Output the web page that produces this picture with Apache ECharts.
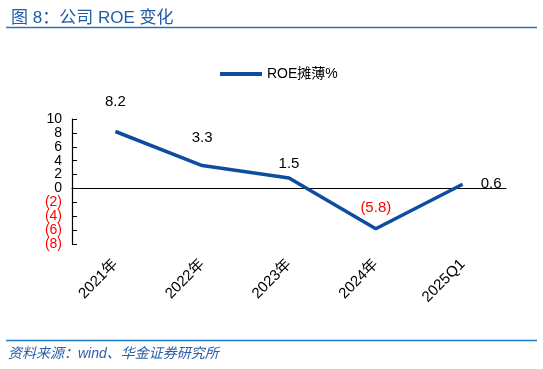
<!DOCTYPE html>
<html><head><meta charset="utf-8">
<script src="https://cdn.jsdelivr.net/npm/echarts@6/dist/echarts.min.js"></script>
<style>html,body{margin:0;padding:0;background:#fff}#c{width:543px;height:369px}</style>
</head><body><div id="c"></div>
<script>
var categories = ['2021年', '2022年', '2023年', '2024年', '2025Q1'];
var roeValues = [8.2, 3.3, 1.5, -5.8, 0.6];
var yTicks = [-8, -6, -4, -2, 0, 2, 4, 6, 8, 10];

var FONT = '"Liberation Sans", Arial, "Noto Sans CJK SC", sans-serif';
var labelCfg = [
  {position: 'top', distance: 22},
  {position: 'top', distance: 20},
  {position: 'top', distance: 7},
  {position: 'top', distance: 13},
  {position: 'right', distance: 18}
];
function fmt(v){ return v < 0 ? '(' + Math.abs(v) + ')' : String(v); }

var chart = echarts.init(document.getElementById('c'));
chart.setOption({
  animation: false,
  backgroundColor: '#fff',
  title: {
    text: '图 8：公司 ROE 变化', left: 6, top: 5,
    textStyle: {color: '#1f5ca8', fontSize: 17, fontWeight: 'normal', fontFamily: FONT}
  },
  graphic: [
    {type: 'line', shape: {x1: 6, y1: 27.5, x2: 537, y2: 27.5}, style: {stroke: '#2a72b8', lineWidth: 1.5}},
    {type: 'line', shape: {x1: 6, y1: 340.5, x2: 537, y2: 340.5}, style: {stroke: '#1f7ac8', lineWidth: 1.5}},
    {type: 'text', left: 8, top: 347, style: {text: '资料来源：wind、华金证券研究所', fill: '#2a5ea8', font: 'italic 14px ' + FONT}}
  ],
  legend: {
    left: 215, top: 62, icon: 'rect', itemWidth: 42, itemHeight: 4, itemGap: 5,
    textStyle: {fontSize: 14, color: '#000', fontFamily: FONT},
    data: ['ROE摊薄%']
  },
  grid: {left: 72, right: 37, top: 119, bottom: 125, containLabel: false},
  xAxis: [{
    type: 'category', data: categories, boundaryGap: true,
    axisLine: {onZero: true, lineStyle: {color: '#000', width: 1.2}},
    axisTick: {inside: true, length: 5, lineStyle: {color: '#000'}},
    axisLabel: {show: false}
  }, {
    type: 'category', data: categories, position: 'bottom', boundaryGap: true,
    axisLine: {show: false, onZero: false}, axisTick: {show: false},
    axisLabel: {rotate: 45, margin: 18, fontSize: 15, color: '#000', fontFamily: FONT, interval: 0}
  }],
  yAxis: {
    type: 'value', min: -8, max: 10, interval: 2,
    axisLine: {show: true, lineStyle: {color: '#000', width: 1.2}},
    axisTick: {show: true, inside: true, length: 5, lineStyle: {color: '#000'}},
    splitLine: {show: false},
    axisLabel: {
      margin: 10, fontSize: 14, fontFamily: FONT,
      formatter: function(v){ return fmt(v); },
      color: function(v){ return v < 0 ? '#ff0000' : '#000'; }
    }
  },
  series: [{
    name: 'ROE摊薄%', type: 'line', xAxisIndex: 0,
    showSymbol: true, symbol: 'circle', symbolSize: 0.1,
    lineStyle: {color: '#0e4ca0', width: 3.5},
    itemStyle: {color: '#0e4ca0'},
    data: roeValues.map(function(v, i){
      return {value: v, label: {show: true, position: labelCfg[i].position, distance: labelCfg[i].distance,
        color: v < 0 ? '#ff0000' : '#000', fontSize: 15, fontFamily: FONT, formatter: fmt(v)}};
    })
  }]
});
</script></body></html>
